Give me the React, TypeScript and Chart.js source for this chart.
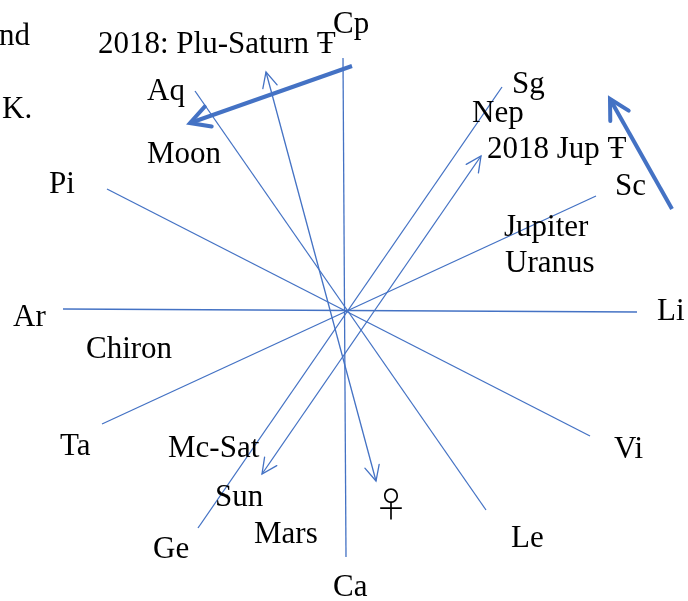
import React, { useEffect, useRef } from "react";
import { Chart, registerables } from "chart.js";

Chart.register(...registerables);

const BLUE = "#4472C4";
const W = 688;
const H = 601;

// Zodiac axis lines through the chart centre (end points in chart units)
const axisNames = ["Cp-Ca", "Ar-Li", "Aq-Le", "Pi-Vi", "Sg-Ge", "Sc-Ta"];
const axisX1 = [343, 63, 195, 107, 502, 596];
const axisY1 = [58, 309, 91, 189, 87, 196];
const axisX2 = [346, 637, 486, 590, 198, 102];
const axisY2 = [557, 312, 510, 436, 528, 424];

// Transit arrows: tail -> head, with optional head at the tail end too
const arrowNames = ["Venus", "2018 Jup", "Plu-Saturn", "Right"];
const arrowTailX = [376, 262, 352, 672];
const arrowTailY = [481, 474, 66, 209];
const arrowHeadX = [266, 481, 190, 610];
const arrowHeadY = [72, 156, 123, 99];
const arrowDouble = [true, true, false, false];
const arrowThick = [false, false, true, true];

// Text labels
const labelTexts = [
  "nd", "K.", "2018: Plu-Saturn Ŧ", "Cp", "Aq", "Moon", "Pi", "Sg", "Nep",
  "2018 Jup Ŧ", "Sc", "Jupiter", "Uranus", "Li", "Ar", "Chiron", "Ta",
  "Mc-Sat", "Sun", "Mars", "Ge", "Ca", "Vi", "Le",
];
const labelX = [
  -1, 2, 98, 333, 147, 147, 49, 512, 472,
  487, 615, 504, 505, 657, 13, 86, 60,
  168, 215, 254, 153, 333, 614, 511,
];
const labelY = [
  45, 118, 53, 33, 100, 163, 193, 93, 122,
  158, 195, 236, 272, 320, 326, 358, 455,
  457, 506, 543, 558, 596, 458, 547,
];
// Venus symbol (centre position)
const venusText = "♀";
const venusX = 391;
const venusY = 504;

function drawHead(
  ctx: CanvasRenderingContext2D,
  tx: number, ty: number, hx: number, hy: number,
  len: number, spread: number
) {
  const ang = Math.atan2(hy - ty, hx - tx);
  const back = ang + Math.PI;
  ctx.beginPath();
  ctx.moveTo(hx + len * Math.cos(back - spread), hy + len * Math.sin(back - spread));
  ctx.lineTo(hx, hy);
  ctx.lineTo(hx + len * Math.cos(back + spread), hy + len * Math.sin(back + spread));
  ctx.stroke();
}

const overlayPlugin = {
  id: "overlay",
  afterDatasetsDraw(chart: any) {
    const ctx: CanvasRenderingContext2D = chart.ctx;
    const xs = chart.scales.x;
    const ys = chart.scales.y;
    ctx.save();
    ctx.strokeStyle = BLUE;
    ctx.lineCap = "round";
    ctx.lineJoin = "miter";
    for (let i = 0; i < arrowNames.length; i++) {
      const tx = xs.getPixelForValue(arrowTailX[i]);
      const ty = ys.getPixelForValue(arrowTailY[i]);
      const hx = xs.getPixelForValue(arrowHeadX[i]);
      const hy = ys.getPixelForValue(arrowHeadY[i]);
      if (arrowThick[i]) {
        ctx.lineWidth = 4;
        drawHead(ctx, tx, ty, hx, hy, 22, 0.5);
      } else {
        ctx.lineWidth = 1.3;
        drawHead(ctx, tx, ty, hx, hy, 17, 0.45);
        if (arrowDouble[i]) drawHead(ctx, hx, hy, tx, ty, 17, 0.45);
      }
    }
    ctx.fillStyle = "#000";
    ctx.textBaseline = "alphabetic";
    ctx.textAlign = "left";
    ctx.font = '31px "Liberation Serif"';
    for (let i = 0; i < labelTexts.length; i++) {
      ctx.fillText(labelTexts[i], xs.getPixelForValue(labelX[i]), ys.getPixelForValue(labelY[i]));
    }
    ctx.font = '300 34px "Noto Sans CJK JP"';
    ctx.textAlign = "center";
    ctx.textBaseline = "middle";
    ctx.fillText(venusText, xs.getPixelForValue(venusX), ys.getPixelForValue(venusY));
    ctx.restore();
  },
};

export default function App() {
  const ref = useRef<HTMLCanvasElement | null>(null);
  useEffect(() => {
    if (!ref.current) return;
    const datasets: any[] = [];
    for (let i = 0; i < axisNames.length; i++) {
      datasets.push({
        label: axisNames[i],
        data: [
          { x: axisX1[i], y: axisY1[i] },
          { x: axisX2[i], y: axisY2[i] },
        ],
        showLine: true,
        borderColor: BLUE,
        borderWidth: 1.3,
        pointRadius: 0,
        pointHoverRadius: 0,
      });
    }
    for (let i = 0; i < arrowNames.length; i++) {
      datasets.push({
        label: arrowNames[i],
        data: [
          { x: arrowTailX[i], y: arrowTailY[i] },
          { x: arrowHeadX[i], y: arrowHeadY[i] },
        ],
        showLine: true,
        borderColor: BLUE,
        borderWidth: arrowThick[i] ? 4 : 1.3,
        borderCapStyle: "butt",
        pointRadius: 0,
        pointHoverRadius: 0,
      });
    }
    const chart = new Chart(ref.current, {
      type: "scatter",
      data: { datasets },
      options: {
        animation: false,
        responsive: false,
        maintainAspectRatio: false,
        layout: { padding: 0 },
        plugins: { legend: { display: false }, tooltip: { enabled: false } },
        scales: {
          x: { type: "linear", min: 0, max: W, display: false },
          y: { type: "linear", min: 0, max: H, reverse: true, display: false },
        },
      },
      plugins: [overlayPlugin],
    });
    return () => chart.destroy();
  }, []);
  return (
    <div style={{ position: "fixed", left: 0, top: 0, width: W, height: H, background: "#fff" }}>
      <canvas ref={ref} width={W} height={H} style={{ width: W, height: H }} />
    </div>
  );
}
